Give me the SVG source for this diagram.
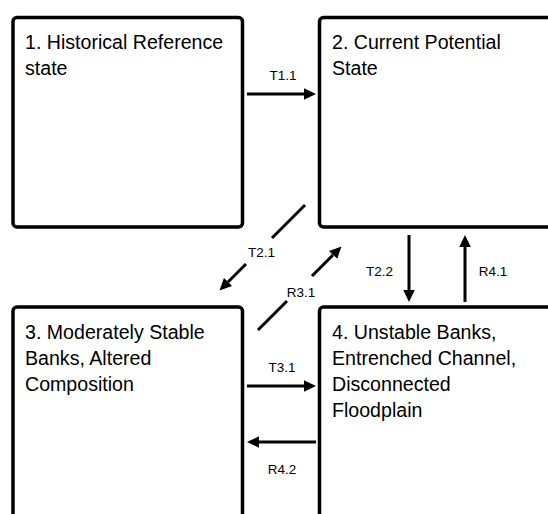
<svg xmlns="http://www.w3.org/2000/svg" width="548" height="514" viewBox="0 0 548 514">
<style>
.box{fill:#fff;stroke:#000;stroke-width:3.5}
.t{font-family:"Liberation Sans",Arial,sans-serif;font-size:19.6px;fill:#000}
.lbl{font-family:"Liberation Sans",Arial,sans-serif;font-size:13.5px;fill:#000;text-anchor:middle}
.c{fill:none;stroke:#000;stroke-width:3}
</style>
<defs>
<marker id="ah" markerUnits="userSpaceOnUse" markerWidth="14" markerHeight="12" refX="0" refY="5.75" orient="auto" viewBox="0 0 14 12">
<path d="M0,0 L12,5.75 L0,11.5 z" fill="#000"/>
</marker>
</defs>
<rect width="548" height="514" fill="#fff"/>
<g id="n1">
<rect class="box" x="13" y="17.5" width="229.5" height="209.5" rx="4"/>
<text class="t" x="25" y="49">1. Historical Reference</text>
<text class="t" x="25" y="75">state</text>
</g>
<g id="n2">
<rect class="box" x="319.5" y="17.5" width="235" height="209.5" rx="4"/>
<text class="t" x="332" y="49">2. Current Potential</text>
<text class="t" x="332" y="75">State</text>
</g>
<g id="n3">
<rect class="box" x="13" y="307" width="229.5" height="220" rx="4"/>
<text class="t" x="25" y="339">3. Moderately Stable</text>
<text class="t" x="25" y="365">Banks, Altered</text>
<text class="t" x="25" y="391">Composition</text>
</g>
<g id="n4">
<rect class="box" x="319.5" y="307" width="235" height="220" rx="4"/>
<text class="t" x="332" y="339">4. Unstable Banks,</text>
<text class="t" x="332" y="365">Entrenched Channel,</text>
<text class="t" x="332" y="391">Disconnected</text>
<text class="t" x="332" y="417">Floodplain</text>
</g>
<g id="connectors">
<path class="c" d="M247,94 L304,94" marker-end="url(#ah)"/>
<text class="lbl" x="283" y="80">T1.1</text>
<path class="c" d="M305,205 L272,238 M246,264 L228,282" marker-end="url(#ah)"/>
<text class="lbl" x="261.5" y="257">T2.1</text>
<path class="c" d="M258,330 L287,301 M312,276 L333,255" marker-end="url(#ah)"/>
<text class="lbl" x="301" y="297">R3.1</text>
<path class="c" d="M409,235 L409,290" marker-end="url(#ah)"/>
<text class="lbl" x="379.5" y="276">T2.2</text>
<path class="c" d="M465,302 L465,247" marker-end="url(#ah)"/>
<text class="lbl" x="493" y="276">R4.1</text>
<path class="c" d="M247,386 L304,386" marker-end="url(#ah)"/>
<text class="lbl" x="282" y="372">T3.1</text>
<path class="c" d="M316,442 L259,442" marker-end="url(#ah)"/>
<text class="lbl" x="282" y="474">R4.2</text>
</g>
</svg>
